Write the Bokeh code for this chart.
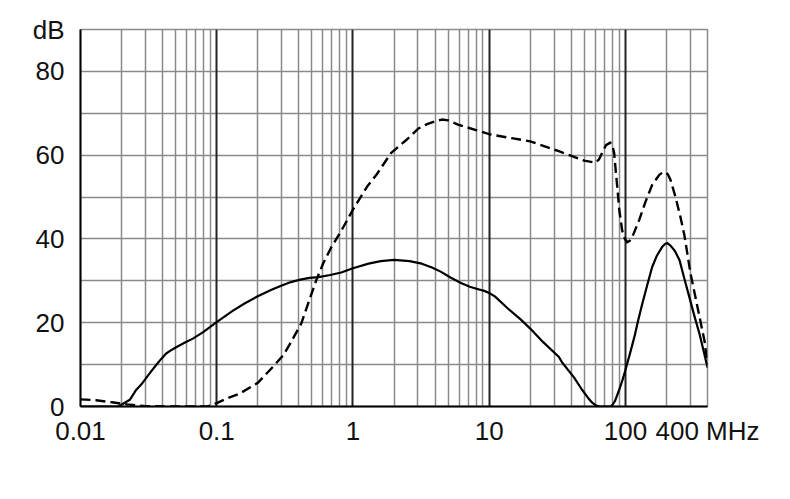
from bokeh.plotting import figure
from bokeh.models import FixedTicker, Grid
from bokeh.embed import file_html
from bokeh.resources import INLINE

# ---- data (frequency in MHz, attenuation in dB) ----
dash_f = [0.01, 0.013, 0.017, 0.022, 0.03, 0.05, 0.085, 0.09, 0.1, 0.12, 0.146, 0.201, 0.264,
          0.307, 0.34, 0.417, 0.477, 0.537, 0.605, 0.693, 0.822, 1.0, 1.27, 1.5, 1.9, 2.5, 3.0,
          3.5, 4.0, 4.5, 5.0, 5.9, 8.0, 10, 15, 20, 32, 49.8, 60, 64, 67.5, 72, 77.3, 80, 82.6, 85, 87, 90, 94.6,
          99, 103, 107, 112, 126, 140, 157, 177, 186, 196, 205, 214, 233, 253, 271, 300, 338, 380, 400]
dash_db = [1.7, 1.5, 1.0, 0.5, 0.1, 0.0, 0.0, 0.2, 0.8, 2.0, 3.0, 5.7, 9.8,
           12.2, 14.6, 19.8, 25.3, 30.1, 34.2, 38.0, 42.0, 47.0, 52.5, 55.5, 60.5, 63.8, 66.3,
           67.4, 68.1, 68.5, 68.3, 67.3, 66.0, 65.0, 64.0, 63.3, 61.0, 58.7, 58.2, 59.0, 60.6, 62.4, 63.0, 62.5, 60.5, 56.0, 52.5, 47.0, 42.0,
           40.0, 39.2, 39.5, 40.4, 44.5, 48.8, 52.9, 55.3, 55.8, 56.0, 55.4, 54.1, 50.0, 45.3, 40.8, 31.8, 23.7, 15.7, 10.0]

solid_f = [0.01, 0.019, 0.0204, 0.023, 0.0254, 0.028, 0.030, 0.033, 0.0357, 0.039, 0.0423, 0.046,
           0.050, 0.058, 0.0668, 0.08, 0.0986, 0.1316, 0.16, 0.2, 0.25, 0.3, 0.35, 0.41, 0.48, 0.56,
           0.68, 0.82, 1.0, 1.3, 1.6, 2.0, 2.6, 3.2, 3.8, 4.4, 5.2, 6.2, 7.2, 8.3, 9.2, 10,
           11, 13.7, 17, 20, 25, 32.5, 34.3, 42, 48, 53, 57, 61, 65, 70, 77.3, 80, 84, 90, 95, 99.7,
           107, 116, 124, 133, 145, 157, 170, 185, 195, 203, 214, 230, 249, 270, 295, 320,
           349, 375, 400]
solid_db = [0.0, 0.0, 0.6, 1.6, 3.8, 5.3, 6.6, 8.4, 9.8, 11.3, 12.6, 13.4,
            14.1, 15.2, 16.2, 17.8, 20.0, 22.9, 24.6, 26.3, 27.8, 28.9, 29.7, 30.3, 30.7, 30.9,
            31.4, 32.0, 33.0, 34.1, 34.7, 35.0, 34.7, 34.1, 33.2, 32.2, 30.8, 29.5, 28.6, 28.0, 27.6, 27.1,
            26.3, 23.4, 20.8, 18.6, 15.3, 11.8, 10.5, 6.9, 4.0, 2.1, 0.9, 0.2, 0.0, 0.0, 0.0, 0.3, 1.4, 4.0, 6.3, 8.6,
            12.2, 16.5, 20.6, 24.6, 29.2, 33.3, 36.0, 38.0, 38.8, 39.0, 38.4, 37.2, 35.0, 30.6, 26.0, 21.7,
            17.4, 13.2, 9.3]

x_ticks = [0.01, 0.1, 1, 10, 100, 400]
x_labels = {0.01: "0.01", 0.1: "0.1", 1: "1", 10: "10", 100: "100", 400: "400 MHz"}
y_ticks = [0, 20, 40, 60, 80, 90]
y_labels = {0: "0", 20: "20", 40: "40", 60: "60", 80: "80", 90: "dB"}
decades = [0.1, 1, 10, 100]
minor_x = [m * d for d in [0.01, 0.1, 1, 10] for m in range(2, 10)] + [200, 300]
y_grid = list(range(0, 100, 10))

FONT = "Liberation Sans"

p = figure(width=774, height=483, x_axis_type="log", x_range=(0.01, 400), y_range=(0, 90),
           output_backend="svg", toolbar_location=None,
           min_border_left=80, min_border_right=67, min_border_top=29, min_border_bottom=77)

p.outline_line_color = "#8a8a8a"
p.outline_line_width = 1.5
p.background_fill_color = "white"
p.border_fill_color = "white"

# grids
p.xgrid.ticker = FixedTicker(ticks=minor_x)
p.xgrid.grid_line_color = "#8a8a8a"
p.xgrid.grid_line_width = 1.5
p.ygrid.ticker = FixedTicker(ticks=y_grid)
p.ygrid.grid_line_color = "#8a8a8a"
p.ygrid.grid_line_width = 1.5
p.add_layout(Grid(dimension=0, ticker=FixedTicker(ticks=decades),
                  grid_line_color="#222222", grid_line_width=2))

# axes
for ax in (p.xaxis[0], p.yaxis[0]):
    ax.axis_line_color = "black"
    ax.axis_line_width = 2
    ax.major_tick_line_color = None
    ax.minor_tick_line_color = None
    ax.major_label_text_font = FONT
    ax.major_label_text_font_size = "26px"
    ax.major_label_text_color = "#111111"

p.xaxis.ticker = FixedTicker(ticks=x_ticks)
p.xaxis.major_label_overrides = x_labels
p.xaxis.major_label_standoff = 3
p.yaxis.ticker = FixedTicker(ticks=y_ticks)
p.yaxis.major_label_overrides = y_labels
p.yaxis.major_label_standoff = 10

# curves
p.line(solid_f, solid_db, line_color="black", line_width=2.2, line_join="round")
p.line(dash_f, dash_db, line_color="black", line_width=2.4, line_dash="10 5", line_join="round")

open("out.html", "w").write(file_html(p, INLINE))
